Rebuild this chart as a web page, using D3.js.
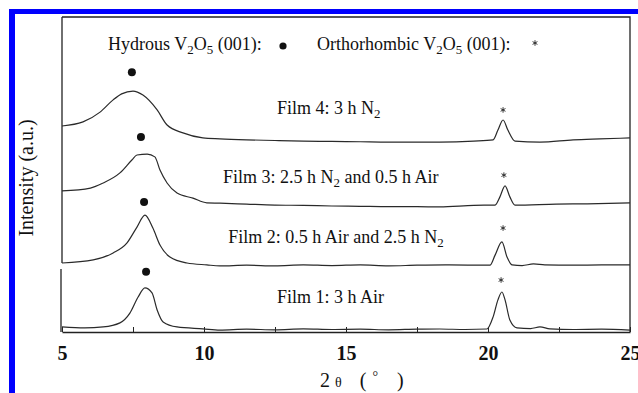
<!DOCTYPE html>
<html>
<head>
<meta charset="utf-8">
<script src="https://cdn.jsdelivr.net/npm/d3@7"></script>
<style>
  body { margin: 0; background: #fff; }
  svg { display: block; }
  text { font-family: "Liberation Serif", "Times New Roman", serif; fill: #111; }
</style>
</head>
<body>
<script>
const width = 638, height = 393;

// 2-theta (deg) vs intensity (a.u., stacking offset included)
const film1 = [[5.0,1.6],[5.8,1.3],[6.45,1.6],[7.04,2.9],[7.39,6.0],[7.68,11.1],[7.92,14.0],[8.17,12.4],[8.35,7.0],[8.56,3.2],[9.05,1.6],[9.96,1.0],[10.56,0.6],[11.5,0.9],[12.5,0.7],[13.5,1.0],[14.5,0.8],[15.5,0.9],[16.5,0.7],[17.5,0.9],[18.3,0.95],[19.2,0.8],[19.96,0.95],[20.18,4.8],[20.35,10.2],[20.49,12.7],[20.6,10.2],[20.77,3.8],[21.02,1.3],[21.5,1.1],[21.83,1.6],[22.18,1.0],[23.0,0.8],[24.0,0.9],[25.0,0.6]];
const film2 = [[5.0,21.9],[6.1,22.9],[6.8,25.1],[7.29,28.3],[7.64,33.3],[7.92,37.1],[8.2,33.0],[8.45,27.6],[8.8,23.8],[9.4,21.9],[10.1,21.3],[10.56,21.0],[11.5,21.2],[12.5,21.0],[13.5,21.3],[14.5,21.1],[15.5,21.3],[16.5,21.0],[17.5,21.2],[18.5,21.3],[20.07,21.2],[20.25,24.4],[20.49,28.6],[20.67,23.8],[20.85,21.3],[21.2,21.1],[21.6,21.6],[22.0,21.3],[23.0,21.2],[24.0,21.3],[25.0,21.3]];
const film3 = [[5.0,44.8],[6.0,45.7],[6.45,47.3],[7.04,50.5],[7.46,54.6],[7.64,56.2],[8.0,56.5],[8.27,55.6],[8.45,51.4],[8.7,47.3],[9.05,44.1],[9.61,42.5],[10.1,41.0],[10.56,40.9],[11.5,40.6],[12.5,40.3],[13.5,40.2],[14.5,40.0],[15.5,39.9],[16.5,39.8],[17.5,39.8],[18.3,39.7],[19.5,40.2],[20.25,40.3],[20.42,42.9],[20.6,46.4],[20.77,42.9],[20.95,40.3],[22.4,40.6],[23.5,40.7],[25.0,41.0]];
const film4 = [[5.0,65.4],[5.74,66.7],[6.34,69.8],[6.8,73.7],[7.1,75.6],[7.5,76.5],[7.85,75.2],[8.35,70.5],[8.7,65.7],[9.26,63.2],[9.96,61.6],[10.56,61.3],[11.5,61.0],[12.5,60.8],[13.5,60.6],[14.5,60.5],[15.5,60.4],[16.5,60.3],[17.5,60.3],[18.3,60.3],[19.5,60.6],[20.18,61.0],[20.35,64.1],[20.53,67.3],[20.7,64.1],[20.95,60.6],[21.83,60.3],[23.0,61.0],[23.94,61.3],[25.0,61.6]];

// peak markers: hydrous (001) dots and orthorhombic (001) asterisks, film 1..4
const dotX = [7.96, 7.89, 7.78, 7.46];
const dotY = [19.1, 41.3, 61.9, 82.5];
const starX = [20.46, 20.53, 20.56, 20.53];
const starY = [16.5, 33.0, 49.8, 70.5];

// film labels, [text, subscript?] parts
const labels = [
  [["Film 1: 3 h Air", 0]],
  [["Film 2: 0.5 h Air and 2.5 h N", 0], ["2", 1]],
  [["Film 3: 2.5 h N", 0], ["2", 1], [" and 0.5 h Air", 0]],
  [["Film 4: 3 h N", 0], ["2", 1]]
];
const labelX = [12.57, 10.85, 10.67, 12.57];
const labelY = [9.2, 28.25, 47.3, 69.2];

const xTicks = [5, 7.5, 10, 12.5, 15, 17.5, 20, 22.5, 25];

const svg = d3.select("body").append("svg")
  .attr("width", width)
  .attr("height", height);

// blue page border
svg.append("rect").attr("x", 9).attr("y", 9).attr("width", 6).attr("height", height - 9).attr("fill", "#0000fe");
svg.append("rect").attr("x", 9).attr("y", 9).attr("width", width - 9).attr("height", 5).attr("fill", "#0000fe");

const x = d3.scaleLinear().domain([5, 25]).range([62, 630]);
const y = d3.scaleLinear().domain([0, 100]).range([332, 17]);

// frame (left side has a small gap between the two stacked panels)
const frame = svg.append("g").attr("stroke", "#222").attr("stroke-width", 1.3).attr("fill", "none");
frame.append("path").attr("d", `M${x(5)},${y(100)}H${x(25)}V${y(0)}`);
frame.append("path").attr("d", `M${x(5)},${y(100)}V263`);
frame.append("path").attr("d", `M${x(5) - 1},269V${y(0)}`);

const xAxis = svg.append("g")
  .attr("transform", `translate(0,${y(0)})`)
  .call(d3.axisBottom(x)
    .tickValues(xTicks)
    .tickSizeInner(-5)
    .tickSizeOuter(0)
    .tickFormat(d => d % 5 === 0 ? d : ""));
xAxis.select(".domain").attr("stroke", "#222").attr("stroke-width", 1.3);
xAxis.selectAll(".tick line").attr("stroke", "#222");
xAxis.selectAll(".tick text")
  .attr("y", 28).attr("dy", 0)
  .attr("fill", "#111")
  .attr("font-size", 20)
  .attr("font-weight", "bold");

const line = d3.line()
  .x(d => x(d[0]))
  .y(d => y(d[1]))
  .curve(d3.curveMonotoneX);

svg.append("g")
  .selectAll("path")
  .data([film1, film2, film3, film4])
  .join("path")
  .attr("d", line)
  .attr("fill", "none")
  .attr("stroke", "#2a2a2a")
  .attr("stroke-width", 1.2);

svg.append("g")
  .selectAll("circle")
  .data(dotX)
  .join("circle")
  .attr("cx", d => x(d))
  .attr("cy", (d, i) => y(dotY[i]))
  .attr("r", 4)
  .attr("fill", "#111");

// small six-armed asterisk
function starPath(cx, cy, r) {
  const p = d3.path();
  for (let k = 0; k < 3; k++) {
    const a = Math.PI / 2 + k * Math.PI / 3;
    p.moveTo(cx + r * Math.cos(a), cy + r * Math.sin(a));
    p.lineTo(cx - r * Math.cos(a), cy - r * Math.sin(a));
  }
  return p.toString();
}

svg.append("g")
  .selectAll("path")
  .data(starX)
  .join("path")
  .attr("d", (d, i) => starPath(x(d), y(starY[i]), 2.8))
  .attr("stroke", "#222")
  .attr("stroke-width", 0.9)
  .attr("fill", "none");

function richText(g, parts, px, py, size) {
  const t = g.append("text").attr("x", px).attr("y", py).attr("font-size", size);
  let shifted = false;
  parts.forEach(([s, sub]) => {
    const ts = t.append("tspan").text(s);
    if (sub) {
      ts.attr("font-size", size * 0.72).attr("dy", shifted ? 0 : 4);
      shifted = true;
    } else {
      if (shifted) ts.attr("dy", -4);
      shifted = false;
    }
  });
  t.style("white-space", "pre");
  return t;
}

labels.forEach((parts, i) => {
  richText(svg, parts, x(labelX[i]), y(labelY[i]), 18);
});

// legend line at the top
richText(svg, [["Hydrous V", 0], ["2", 1], ["O", 0], ["5", 1], [" (001):", 0]], 108, 50, 18);
svg.append("circle").attr("cx", 283).attr("cy", 46).attr("r", 3.6).attr("fill", "#111");
richText(svg, [["Orthorhombic V", 0], ["2", 1], ["O", 0], ["5", 1], [" (001):", 0]], 317, 50, 18);
svg.append("path")
  .attr("d", starPath(535, 43, 2.8))
  .attr("stroke", "#222")
  .attr("stroke-width", 0.9);

// axis titles
const xt = svg.append("text").attr("x", 320).attr("y", 387).attr("font-size", 20);
xt.append("tspan").text("2");
xt.append("tspan").attr("dx", 5).attr("font-size", 14).text("θ");
xt.append("tspan").attr("dx", 18).text("(");
xt.append("tspan").attr("dx", 6).attr("font-size", 14).attr("dy", -6).text("°");
xt.append("tspan").attr("dx", 19).attr("dy", 6).text(")");

svg.append("text")
  .attr("transform", "translate(33,178) rotate(-90)")
  .attr("text-anchor", "middle")
  .attr("font-size", 20)
  .text("Intensity (a.u.)");
</script>
</body>
</html>
